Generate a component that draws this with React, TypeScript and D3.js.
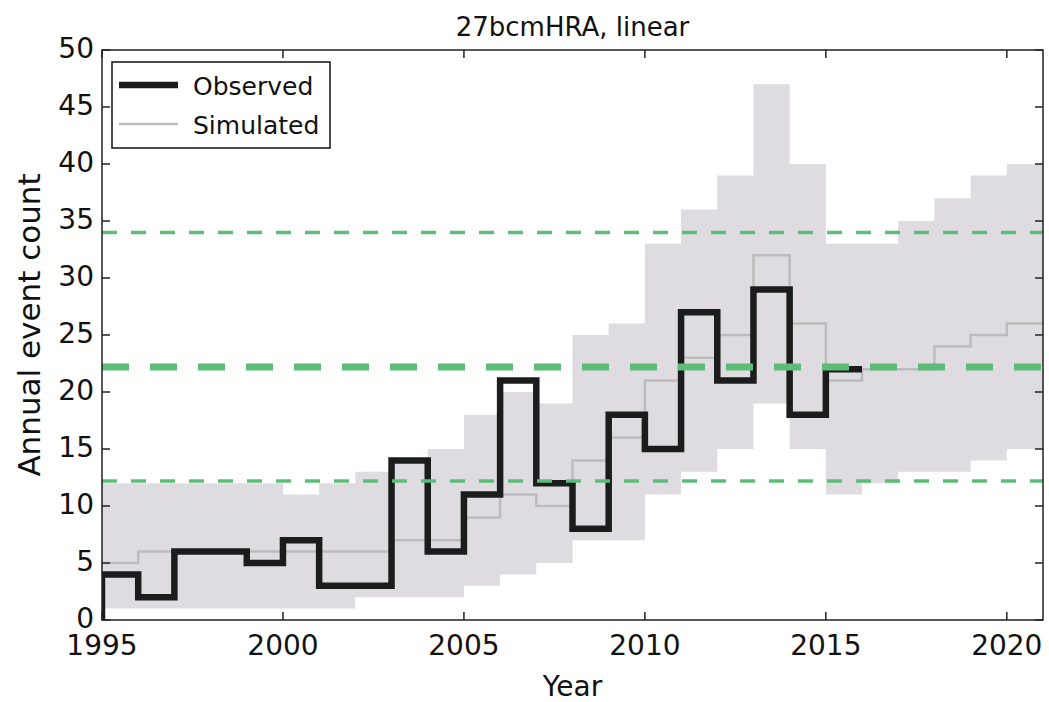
import React from "react";
import * as d3 from "d3";

// ---- data ----
const simYears = [1995, 1996, 1997, 1998, 1999, 2000, 2001, 2002, 2003, 2004, 2005, 2006, 2007, 2008, 2009, 2010, 2011, 2012, 2013, 2014, 2015, 2016, 2017, 2018, 2019, 2020];
const simLower = [1, 1, 1, 1, 1, 1, 1, 2, 2, 2, 3, 4, 5, 7, 7, 11, 13, 15, 19, 15, 11, 12, 13, 13, 14, 15];
const simUpper = [12, 12, 12, 12, 12, 11, 12, 13, 14, 15, 18, 20, 19, 25, 26, 33, 36, 39, 47, 40, 33, 33, 35, 37, 39, 40];
const simMedian = [5, 6, 6, 6, 6, 6, 6, 6, 7, 7, 9, 11, 10, 14, 16, 21, 23, 25, 32, 26, 21, 22, 22, 24, 25, 26];
const simEnd = 2021;

const obsYears = [1995, 1996, 1997, 1998, 1999, 2000, 2001, 2002, 2003, 2004, 2005, 2006, 2007, 2008, 2009, 2010, 2011, 2012, 2013, 2014, 2015];
const obsValues = [4, 2, 6, 6, 5, 7, 3, 3, 14, 6, 11, 21, 12, 8, 18, 15, 27, 21, 29, 18, 22];
const obsEnd = 2016;

const refLevels = [12.2, 22.2, 34];
const refMain = [false, true, false];

const xTicks = [1995, 2000, 2005, 2010, 2015, 2020];
const yTicks = [0, 5, 10, 15, 20, 25, 30, 35, 40, 45, 50];

const title = "27bcmHRA, linear";
const xLabel = "Year";
const yLabel = "Annual event count";
const legendLabels = ["Observed", "Simulated"];

const W = 1049, H = 702;
const L = 102, R = 1043, T = 50, B = 620;
const FONT = "DejaVu Sans, Verdana, sans-serif";
const GREEN = "#5dbd78";

export default function App() {
  const x = d3.scaleLinear().domain([1995, 2021]).range([L, R]);
  const y = d3.scaleLinear().domain([0, 50]).range([B, T]);

  type P = { yr: number; lo: number; hi: number; md: number };
  const sim: P[] = simYears.map((yr, i) => ({ yr, lo: simLower[i], hi: simUpper[i], md: simMedian[i] }));
  const lastS = sim[sim.length - 1];
  sim.push({ yr: simEnd, lo: lastS.lo, hi: lastS.hi, md: lastS.md });

  const area = d3.area<P>().x(d => x(d.yr)).y0(d => y(d.lo)).y1(d => y(d.hi)).curve(d3.curveStepAfter);
  const medLine = d3.line<P>().x(d => x(d.yr)).y(d => y(d.md)).curve(d3.curveStepAfter);

  const obs: [number, number][] = [[obsYears[0], 0]];
  obsYears.forEach((yr, i) => obs.push([yr, obsValues[i]]));
  obs.push([obsEnd, obsValues[obsValues.length - 1]]);
  const obsLine = d3.line<[number, number]>().x(d => x(d[0])).y(d => y(d[1])).curve(d3.curveStepAfter);

  const tick = 8;

  return (
    <svg width={W} height={H} style={{ position: "absolute", left: 0, top: 0, background: "#fff" }} fontFamily={FONT}>
      <rect x={0} y={0} width={W} height={H} fill="#fff" />
      <defs>
        <clipPath id="plot">
          <rect x={L} y={T} width={R - L} height={B - T} />
        </clipPath>
      </defs>
      <g clipPath="url(#plot)">
        <path d={area(sim) || ""} fill="#dedce0" stroke="none" />
        <path d={medLine(sim) || ""} fill="none" stroke="#bcbcbc" strokeWidth={2.5} />
        <path d={obsLine(obs) || ""} fill="none" stroke="#1b1d1c" strokeWidth={6.5} strokeLinejoin="miter" />
        {refLevels.map((v, i) => (
          <line key={i} x1={L} x2={R} y1={y(v)} y2={y(v)} stroke={GREEN}
            strokeWidth={refMain[i] ? 7 : 3.5}
            strokeDasharray={refMain[i] ? "27 21" : "15 14"} />
        ))}
      </g>
      {/* frame */}
      <rect x={L} y={T} width={R - L} height={B - T} fill="none" stroke="#222" strokeWidth={1.5} />
      {/* ticks */}
      {yTicks.map(v => (
        <g key={"y" + v}>
          <line x1={L} x2={L + tick} y1={y(v)} y2={y(v)} stroke="#222" strokeWidth={1.5} />
          <line x1={R} x2={R - tick} y1={y(v)} y2={y(v)} stroke="#222" strokeWidth={1.5} />
          <text x={L - 8} y={y(v) - 2} dy="0.36em" textAnchor="end" fontSize={28} fill="#111">{v}</text>
        </g>
      ))}
      {xTicks.map(v => (
        <g key={"x" + v}>
          <line x1={x(v)} x2={x(v)} y1={B} y2={B - tick} stroke="#222" strokeWidth={1.5} />
          <line x1={x(v)} x2={x(v)} y1={T} y2={T + tick} stroke="#222" strokeWidth={1.5} />
          <text x={x(v)} y={655} textAnchor="middle" fontSize={28} fill="#111">{v}</text>
        </g>
      ))}
      <text x={(L + R) / 2} y={36} textAnchor="middle" fontSize={26} fill="#111">{title}</text>
      <text x={(L + R) / 2} y={696} textAnchor="middle" fontSize={28} fill="#111">{xLabel}</text>
      <text transform={`translate(40,${(T + B) / 2 - 10}) rotate(-90)`} textAnchor="middle" fontSize={31} fill="#111">{yLabel}</text>
      {/* legend */}
      <g>
        <rect x={112} y={62} width={218} height={86} fill="#fff" stroke="#111" strokeWidth={1.5} />
        <line x1={119} x2={178} y1={85} y2={85} stroke="#1b1d1c" strokeWidth={6.5} />
        <line x1={119} x2={178} y1={124} y2={124} stroke="#bcbcbc" strokeWidth={2.5} />
        <text x={193} y={95} fontSize={25} fill="#111">{legendLabels[0]}</text>
        <text x={193} y={134} fontSize={25} fill="#111">{legendLabels[1]}</text>
      </g>
    </svg>
  );
}
